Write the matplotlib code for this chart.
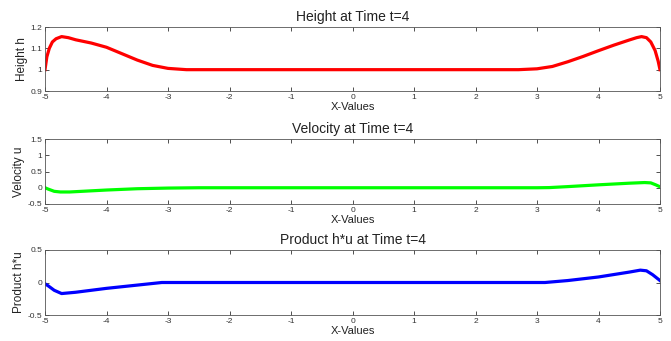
import numpy as np
import matplotlib
matplotlib.use("Agg")
import matplotlib.pyplot as plt
from matplotlib.ticker import FormatStrFormatter

plt.rcParams['font.family'] = ['Liberation Sans', 'DejaVu Sans']
plt.rcParams['axes.unicode_minus'] = False

# water column state at t=4
x_h = [-5.0, -4.97, -4.93, -4.88, -4.82, -4.73, -4.62, -4.5, -4.25, -4.0, -3.75,
       -3.5, -3.25, -3.0, -2.7, 0.0, 2.7, 3.0, 3.25, 3.5, 3.75, 4.0, 4.25, 4.5,
       4.62, 4.7, 4.78, 4.85, 4.92, 4.97, 5.0]
height = [1.0, 1.06, 1.10, 1.13, 1.145, 1.155, 1.15, 1.14, 1.125, 1.105, 1.075,
          1.045, 1.02, 1.006, 1.0, 1.0, 1.0, 1.004, 1.015, 1.037, 1.062, 1.089,
          1.115, 1.139, 1.15, 1.155, 1.15, 1.13, 1.09, 1.04, 1.0]

x_u = [-5.0, -4.95, -4.85, -4.75, -4.6, -4.4, -4.0, -3.5, -3.0, -2.5, 0.0, 3.0,
       3.2, 3.5, 4.0, 4.5, 4.75, 4.85, 4.93, 5.0]
velocity = [0.0, -0.04, -0.11, -0.13, -0.13, -0.11, -0.07, -0.03, -0.01, 0.0,
            0.0, 0.0, 0.005, 0.035, 0.09, 0.14, 0.16, 0.15, 0.09, 0.03]

x_q = [-5.0, -4.95, -4.85, -4.73, -4.5, -4.0, -3.5, -3.1, 0.0, 3.13, 3.5, 4.0,
       4.5, 4.68, 4.78, 4.88, 5.0]
momentum = [-0.02, -0.05, -0.12, -0.17, -0.15, -0.09, -0.04, 0.0, 0.0, 0.0,
            0.03, 0.085, 0.16, 0.19, 0.18, 0.12, 0.03]

panels = [
    (x_h, height, 'r', 'Height at Time t=4', 'Height h', [0.9, 1.2], [0.9, 1.0, 1.1, 1.2]),
    (x_u, velocity, '#00ff00', 'Velocity at Time t=4', 'Velocity u', [-0.5, 1.5],
     [-0.5, 0, 0.5, 1, 1.5]),
    (x_q, momentum, 'b', 'Product h*u at Time t=4', 'Product h*u', [-0.5, 0.5], [-0.5, 0, 0.5]),
]

fig = plt.figure(figsize=(6.71, 3.41), dpi=100)
W, H = 671, 341
boxes = [(27, 91), (139, 204), (250, 315)]
left, right = 45, 660

for (xs, ys, c, title, ylab, ylim, yt), (top, bot) in zip(panels, boxes):
    ax = fig.add_axes([left / W, 1 - bot / H, (right - left) / W, (bot - top) / H])
    ax.plot(xs, ys, color=c, linewidth=2.3)
    ax.set_xlim(-5, 5)
    ax.set_ylim(*ylim)
    ax.set_xticks(range(-5, 6))
    ax.set_yticks(yt)
    ax.yaxis.set_major_formatter(FormatStrFormatter('%g'))
    ax.tick_params(direction='in', length=3, width=0.6, labelsize=6, pad=2,
                   top=True, right=True, colors='#333333', labelcolor='#333333')
    for s in ax.spines.values():
        s.set_linewidth(0.6)
        s.set_color('#555555')
    ax.set_title(title, fontsize=10, pad=4, color='#222222')
    ax.set_xlabel('X-Values', fontsize=8, labelpad=1, color='#222222')
    ax.set_ylabel(ylab, fontsize=8.5, labelpad=2, color='#222222')

fig.savefig('out.png', dpi=100)
